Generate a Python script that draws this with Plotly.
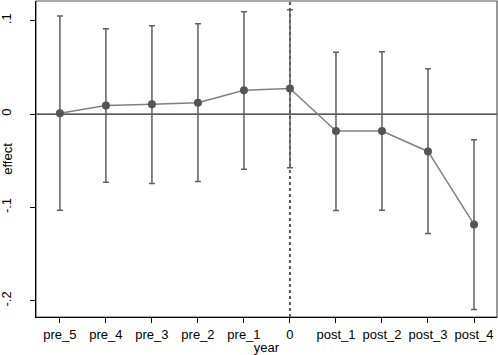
import plotly.graph_objects as go

categories = ["pre_5", "pre_4", "pre_3", "pre_2", "pre_1", "0", "post_1", "post_2", "post_3", "post_4"]
effect = [0.001, 0.0093, 0.0104, 0.0121, 0.0254, 0.0275, -0.0182, -0.0182, -0.040, -0.1182]
ci_upper = [0.105, 0.0914, 0.0946, 0.0968, 0.1097, 0.1118, 0.0661, 0.0668, 0.0486, -0.0275]
ci_lower = [-0.103, -0.073, -0.0743, -0.0721, -0.059, -0.0575, -0.1032, -0.1029, -0.128, -0.2093]
yticks = [0.1, 0, -0.1, -0.2]
ytick_text = [".1", "0", "-.1", "-.2"]
event_cat = "0"

xpos = list(range(1, len(categories) + 1))
err_plus = [u - e for u, e in zip(ci_upper, effect)]
err_minus = [e - l for e, l in zip(effect, ci_lower)]

fig = go.Figure()
fig.add_trace(go.Scatter(
    x=xpos, y=effect, mode="lines+markers",
    line=dict(color="#808080", width=1.5),
    marker=dict(color="#555555", size=8),
    error_y=dict(type="data", symmetric=False, array=err_plus, arrayminus=err_minus,
                 color="#5f5f5f", thickness=1.5, width=3),
    showlegend=False,
))

ev = xpos[categories.index(event_cat)]
fig.add_shape(type="line", xref="x", yref="paper", x0=ev, x1=ev, y0=0, y1=1,
              line=dict(color="black", width=1.3, dash="dot"), layer="below")
fig.add_shape(type="line", xref="paper", yref="y", x0=0, x1=1, y0=0, y1=0,
              line=dict(color="#222222", width=1.3), layer="below")
fig.add_shape(type="rect", xref="paper", yref="paper", x0=0, x1=1, y0=0, y1=1,
              line=dict(color="#555555", width=1.2), layer="below")

fig.update_layout(
    width=498, height=355,
    margin=dict(l=36, r=1, t=1, b=38, autoexpand=False),
    plot_bgcolor="white", paper_bgcolor="white",
    font=dict(family="Liberation Sans, Arial, sans-serif", size=13, color="black"),
    xaxis=dict(range=[0.48, 10.5], tickmode="array", tickvals=xpos, ticktext=categories,
               showgrid=False, zeroline=False, showline=True, linecolor="black", linewidth=1.3,
               ticks="outside", ticklen=5, tickcolor="black", automargin=False,
               title=dict(text="year", standoff=0, font=dict(size=13))),
    yaxis=dict(range=[-0.2173, 0.1211], tickmode="array", tickvals=yticks, ticktext=ytick_text,
               tickangle=-90, showgrid=False, zeroline=False, showline=True, linecolor="black",
               linewidth=1.3, ticks="outside", ticklen=5, tickcolor="black", automargin=False,
               ticklabelstandoff=14,
               title=dict(text="effect", standoff=0, font=dict(size=13))),
)

fig.write_html("out.html", config={"displayModeBar": False},
               post_script="document.body.style.margin='0px';")
